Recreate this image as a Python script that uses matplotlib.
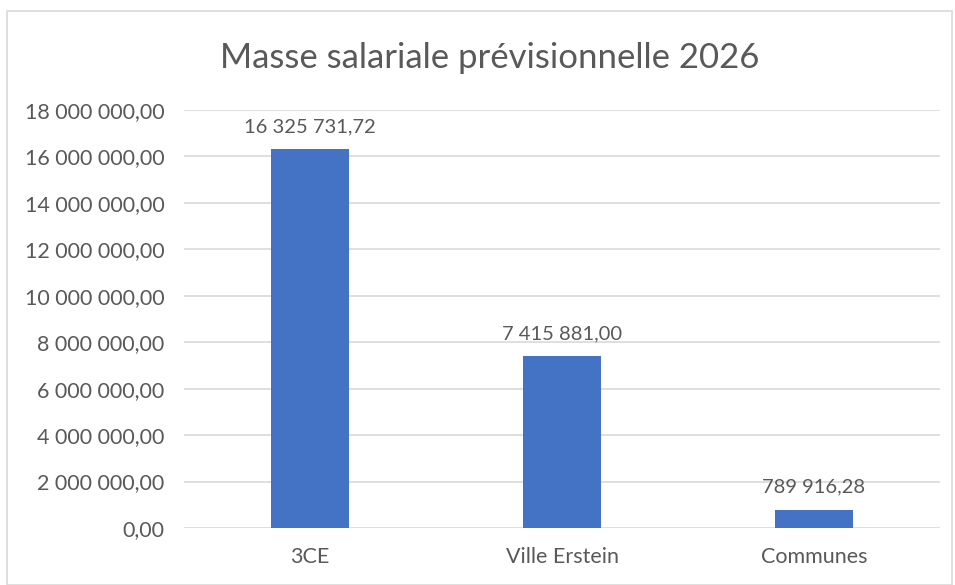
import matplotlib.pyplot as plt
import matplotlib.patches as patches
from matplotlib.ticker import FuncFormatter

categories = ["3CE", "Ville Erstein", "Communes"]
values = [16325731.72, 7415881.00, 789916.28]
yticks = [0, 2e6, 4e6, 6e6, 8e6, 10e6, 12e6, 14e6, 16e6, 18e6]

text_col = "#595959"
bar_col = "#4472C4"
grid_col = "#D9D9D9"

plt.rcParams['font.family'] = ['Lato', 'DejaVu Sans']


def fmt_fr(v, pos=None):
    s = f"{v:,.2f}"
    return s.replace(",", " ").replace(".", ",")


fig = plt.figure(figsize=(9.55, 5.85), dpi=100)
W, H = 955, 585

# cadre du graphique
rect = patches.Rectangle((7 / W, 0), 945 / W, 1 - 11 / H, transform=fig.transFigure,
                         fill=False, edgecolor=grid_col, linewidth=1.2)
fig.patches.append(rect)

ax = fig.add_axes([184 / W, 1 - 528 / H, (940 - 184) / W, (528 - 110) / H])
x = range(len(categories))
ax.bar(x, values, width=0.31, color=bar_col, zorder=3)

ax.set_xlim(-0.5, len(categories) - 0.5)
ax.set_ylim(0, 18e6)
ax.set_yticks(yticks)
ax.yaxis.set_major_formatter(FuncFormatter(fmt_fr))
ax.set_xticks(list(x))
ax.set_xticklabels(categories)
ax.tick_params(axis='both', length=0, labelsize=15.5, colors=text_col)
ax.tick_params(axis='y', pad=14)
ax.tick_params(axis='x', pad=14)
ax.grid(axis='y', color=grid_col, linewidth=1.2, zorder=0)
for s in ax.spines.values():
    s.set_visible(False)

# etiquettes de valeurs
for i, v in enumerate(values):
    ax.annotate(fmt_fr(v), (i, v), xytext=(0, 10), textcoords='offset points',
                ha='center', va='bottom', fontsize=14.5, color=text_col)

fig.text(490 / W, 1 - 58 / H, "Masse salariale prévisionnelle 2026", ha='center', va='center',
         fontsize=25, color=text_col)

plt.savefig("out.png", dpi=100)
plt.close()
